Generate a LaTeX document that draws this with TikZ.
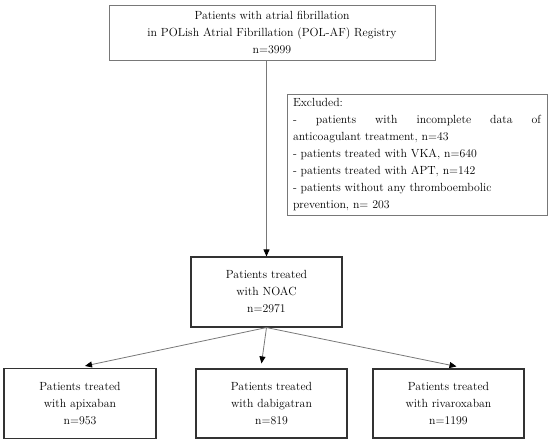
\documentclass[tikz,border=0pt]{standalone}
\usepackage{tikz}
\usetikzlibrary{arrows.meta}
\definecolor{grisito}{RGB}{120,120,120}
\definecolor{oscurito}{RGB}{50,50,50}
\tikzset{>={Triangle[length=7pt,width=6pt,color=black]}}
\tikzset{caja/.style={draw=oscurito, line width=1.1pt, align=center, inner sep=0pt, font=\fontsize{11.8}{17}\selectfont},
	cajagris/.style={caja, draw=grisito, line width=0.9pt}}

\begin{document}
\begin{tikzpicture}[x=1pt,y=1pt]
	\useasboundingbox (0,0) rectangle (550,444);
	\node[cajagris, minimum width=326pt, minimum height=55pt] (polaf) at (272,411.5) {Patients with atrial fibrillation\\in POLish Atrial Fibrillation (POL-AF) Registry\\n=3999};
	\node[cajagris, minimum width=260pt, minimum height=121pt, text width=248pt, align=justify] (excl) at (417,289.5) {Excluded:\\- patients with incomplete data of\linebreak anticoagulant treatment, n=43\\- patients treated with VKA, n=640\\- patients treated with APT, n=142\\- patients without any thromboembolic\\prevention, n= 203};
	\node[caja, minimum width=151pt, minimum height=70pt] (noac) at (266.5,152) {Patients treated\\with NOAC\\n=2971};
	\node[caja, minimum width=152pt, minimum height=70pt] (apix) at (80,40.5) {Patients treated\\with apixaban\\n=953};
	\node[caja, minimum width=151pt, minimum height=69pt] (dabi) at (271.5,40.5) {Patients treated\\with dabigatran\\n=819};
	\node[caja, minimum width=151pt, minimum height=69pt] (riva) at (448.5,40.5) {Patients treated\\with rivaroxaban\\n=1199};

	\draw[->,grisito,line width=0.8pt] (noac.north |- polaf.south) -- (noac.north);
	\draw[->,grisito,line width=0.8pt] (noac.south) -- ([xshift=5pt,yshift=2pt]apix.north);
	\draw[->,grisito,line width=0.8pt] (noac.south) -- ([xshift=-10pt,yshift=5pt]dabi.north);
	\draw[->,grisito,line width=0.8pt] (noac.south) -- ([xshift=8pt,yshift=2pt]riva.north);
\end{tikzpicture}
\end{document}
